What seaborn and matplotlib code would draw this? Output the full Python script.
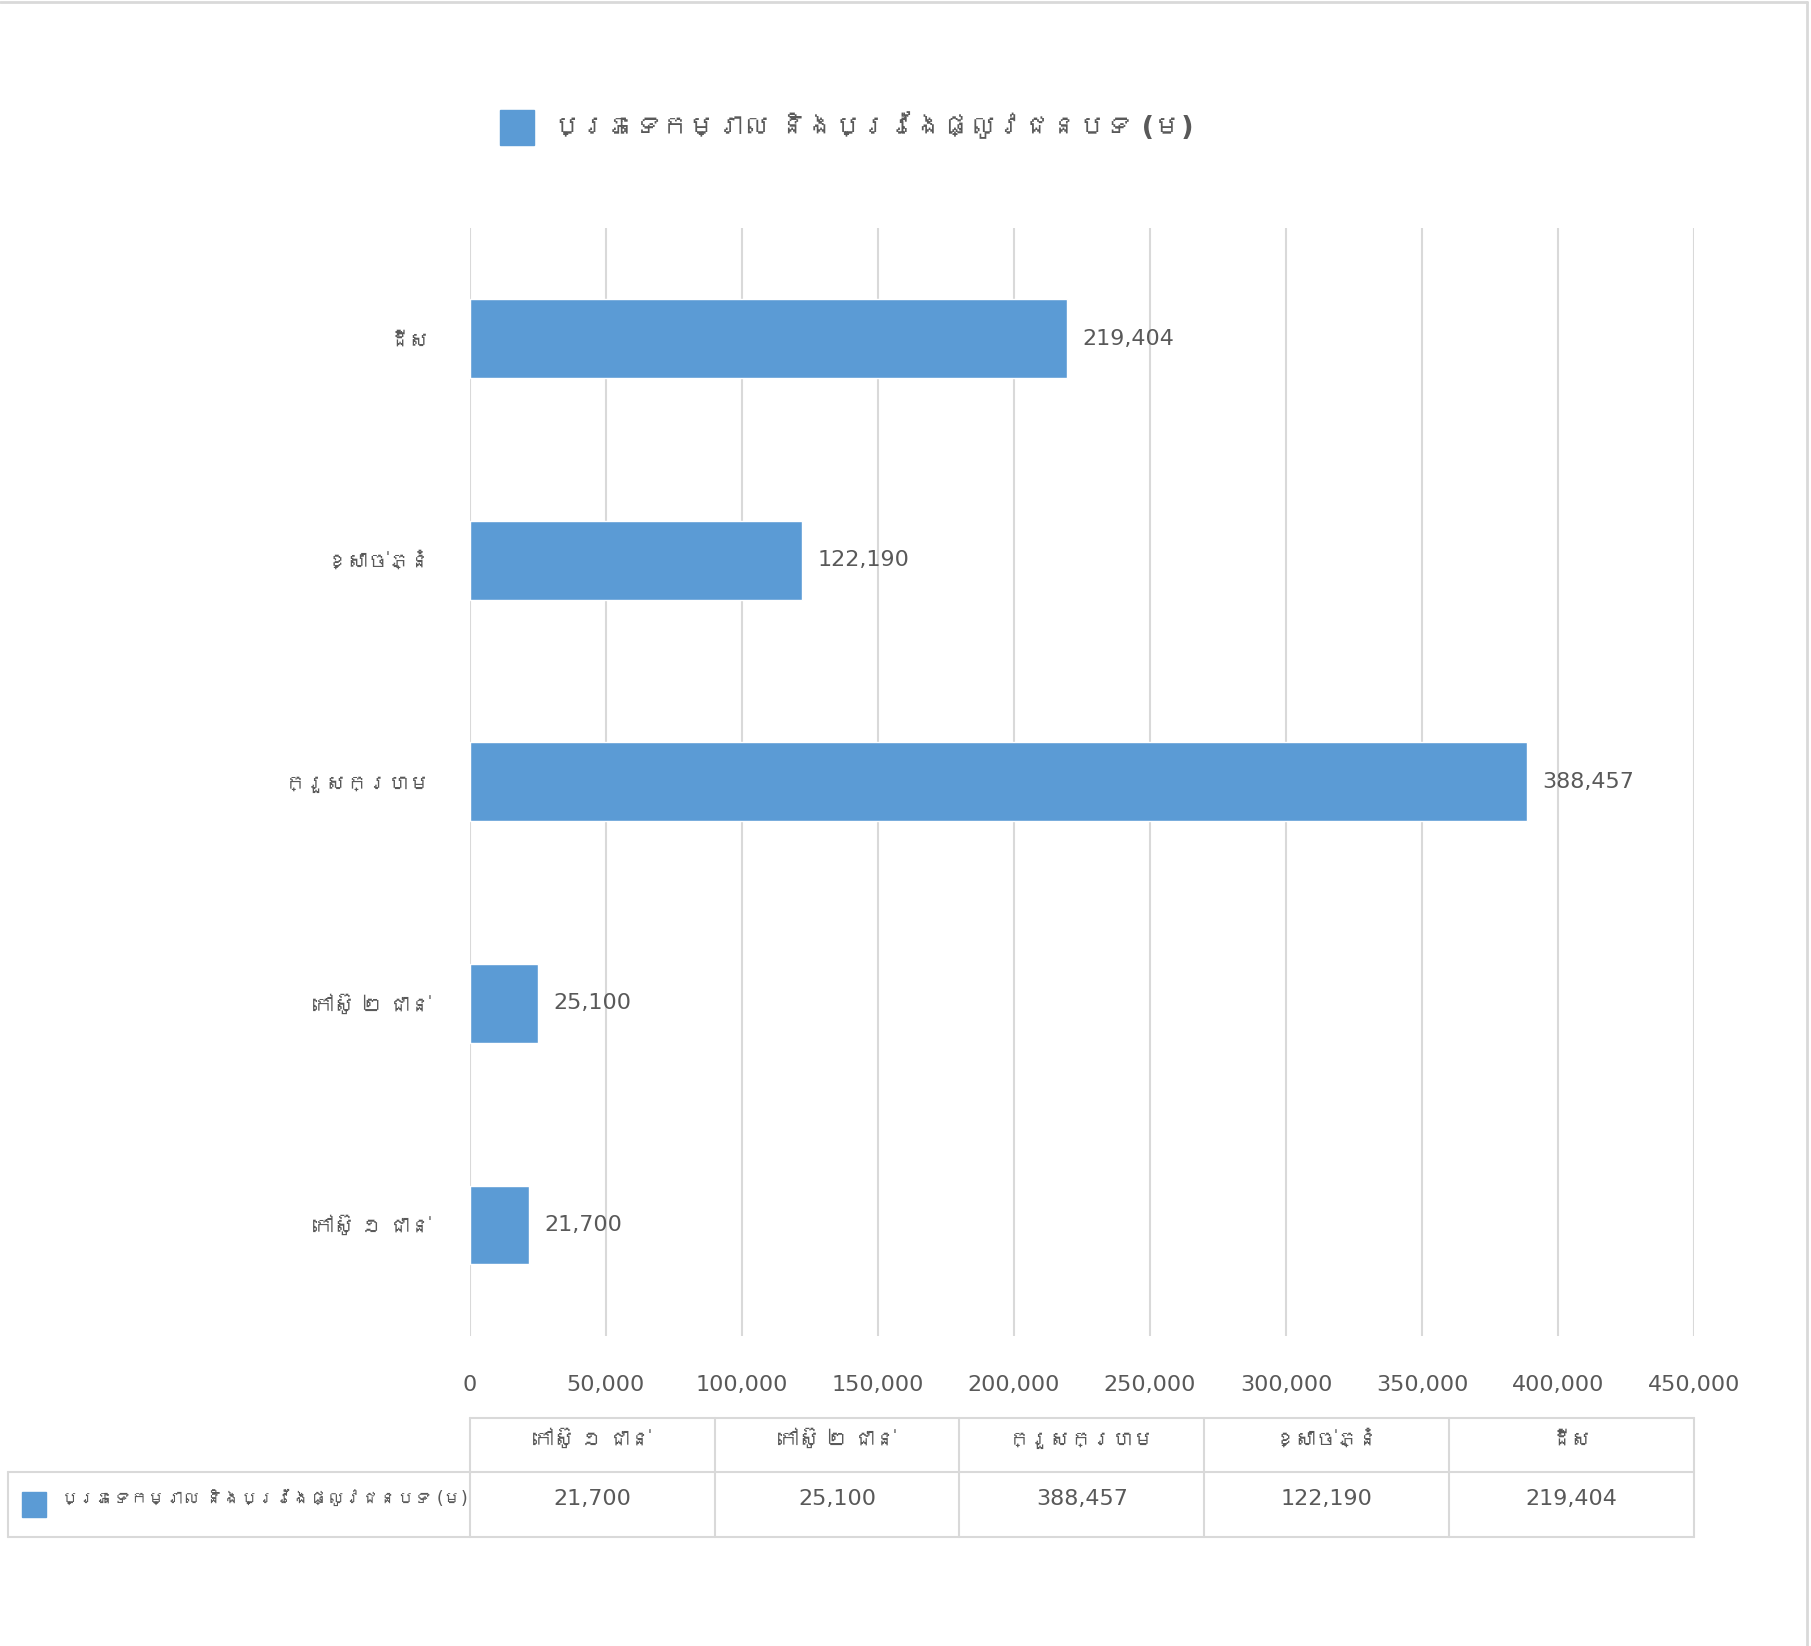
import pandas as pd
import seaborn as sns
import matplotlib.pyplot as plt
from matplotlib import font_manager
from matplotlib.ft2font import FT2Font
from matplotlib.lines import Line2D
from matplotlib.patches import Rectangle

# data (table order, Excel draws first category at the bottom)
categories = ["កៅស៊ូ ១ ជាន់", "កៅស៊ូ ២ ជាន់", "ក្រួសក្រហម", "ខ្សាច់ភ្នំ", "ដីស"]
lengths = [21700, 25100, 388457, 122190, 219404]
x_ticks = [0, 50000, 100000, 150000, 200000, 250000, 300000, 350000, 400000, 450000]
series_name = "ប្រភេទកម្រាល និងប្រវែងផ្លូវជនបទ (ម)"

BLUE = "#5B9BD5"
TEXT = "#595959"
GRID = "#D9D9D9"


def find_khmer_families():
    # look for any installed font that covers the Khmer block
    found = []
    for f in font_manager.fontManager.ttflist:
        try:
            cmap = FT2Font(f.fname).get_charmap()
        except Exception:
            continue
        if 0x1780 in cmap and 0x17D2 in cmap and f.name not in found:
            found.append(f.name)
    return found


sns.set_style("white")
families = ["DejaVu Sans"] + find_khmer_families()
plt.rcParams["font.family"] = families

df = pd.DataFrame({"category": categories, "length": lengths})

fig = plt.figure(figsize=(18.11, 16.46), dpi=100)
ax = fig.add_axes([0.2593, 0.1885, 0.6762, 0.6731])

sns.barplot(data=df, x="length", y="category", order=categories[::-1],
            color=BLUE, width=0.355, orient="h", saturation=1, ax=ax)

ax.bar_label(ax.containers[0], fmt=lambda v: f"{v:,.0f}", padding=11,
             fontsize=16, color=TEXT)

ax.set_xlim(0, 450000)
ax.set_xticks(x_ticks)
ax.set_xticklabels([f"{t:,}" for t in x_ticks])
ax.grid(axis="x", color=GRID, linewidth=1.5)
ax.set_axisbelow(True)
for s in ax.spines.values():
    s.set_visible(False)
ax.tick_params(axis="x", length=0, pad=28, labelsize=16, labelcolor=TEXT)
ax.tick_params(axis="y", length=0, pad=28, labelsize=15, labelcolor=TEXT)
ax.set_xlabel("")
ax.set_ylabel("")

# title with legend key
fig.patches.append(Rectangle((0.2761, 0.9121), 0.0189, 0.0211,
                             transform=fig.transFigure, color=BLUE))
fig.text(0.3053, 0.9227, series_name, fontsize=19.5, fontweight="bold",
         color=TEXT, va="center", ha="left")

# data table below the axis
left, right = 0.2593, 0.9355
top, mid, bottom = 0.1386, 0.1056, 0.0662
outer_left = 0.0045
col_w = (right - left) / len(categories)


def hline(x0, x1, y):
    fig.add_artist(Line2D([x0, x1], [y, y], color=GRID, linewidth=1.5,
                          transform=fig.transFigure))


def vline(x, y0, y1):
    fig.add_artist(Line2D([x, x], [y0, y1], color=GRID, linewidth=1.5,
                          transform=fig.transFigure))


hline(left, right, top)
hline(outer_left, right, mid)
hline(outer_left, right, bottom)
vline(outer_left, bottom, mid)
for i in range(len(categories) + 1):
    vline(left + i * col_w, bottom, top)

for i, (cat, val) in enumerate(zip(categories, lengths)):
    cx = left + (i + 0.5) * col_w
    fig.text(cx, 0.1252, cat, fontsize=15, color=TEXT, ha="center", va="center")
    fig.text(cx, 0.0893, f"{val:,}", fontsize=16, color=TEXT, ha="center", va="center")

fig.patches.append(Rectangle((0.0121, 0.0784), 0.0135, 0.0149,
                             transform=fig.transFigure, color=BLUE))
fig.text(0.0338, 0.0893, series_name, fontsize=12.5, color=TEXT,
         ha="left", va="center")

# chart border (top and right edges visible)
fig.add_artist(Line2D([0, 0.998], [0.999, 0.999], color=GRID, linewidth=2,
                      transform=fig.transFigure))
fig.add_artist(Line2D([0.998, 0.998], [0, 0.999], color=GRID, linewidth=2,
                      transform=fig.transFigure))

fig.savefig("out.png", dpi=100)
